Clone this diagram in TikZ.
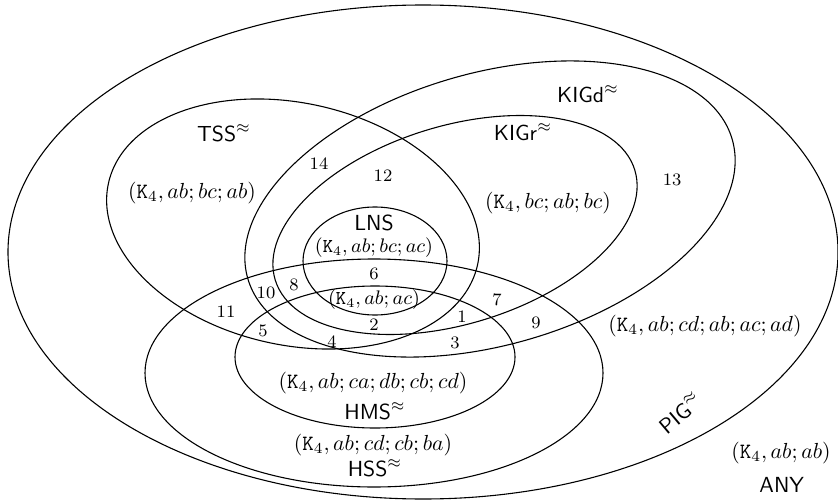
\documentclass[tikz,border=0pt]{standalone}
\usepackage{amsmath}
\usepackage{tikz}

\begin{document}
\begin{tikzpicture}[x=0.4585pt,y=-0.4585pt,
    set/.style={draw,line width=0.5pt},
    setname/.style={inner sep=0pt},
    region/.style={font=\footnotesize,inner sep=1pt},
    graph/.style={inner sep=0pt},
    small graph/.style={font=\small,inner sep=0pt}]

  \useasboundingbox (0,0) rectangle (838,500);

  % the sets
  \draw[set] (423,252) ellipse [x radius=415, y radius=247];
  \draw[set, rotate around={16:(490,209)}] (490,209) ellipse [x radius=252, y radius=136];
  \draw[set, rotate around={17:(455,225)}] (455,225) ellipse [x radius=188, y radius=99];
  \draw[set, rotate around={-12.5:(293,224)}] (293,224) ellipse [x radius=189, y radius=121];
  \draw[set] (375,261) ellipse [x radius=72, y radius=54];
  \draw[set] (374,373) ellipse [x radius=229, y radius=114];
  \draw[set] (375,357) ellipse [x radius=140, y radius=71];

  % names of the sets
  \node[setname] (tss) at (224,133) {$\mathsf{TSS}^{\approx}$};
  \node[setname] (kigd) at (588,94) {$\mathsf{KIGd}^{\approx}$};
  \node[setname] (kigr) at (523,132) {$\mathsf{KIGr}^{\approx}$};
  \node[setname] (lns) at (374,223) {$\mathsf{LNS}$};
  \node[setname] (hms) at (375,411) {$\mathsf{HMS}^{\approx}$};
  \node[setname] (hss) at (375,468) {$\mathsf{HSS}^{\approx}$};
  \node[setname, rotate=40] (pig) at (680,413) {$\mathsf{PIG}^{\approx}$};
  \node[setname] (any) at (782,485) {$\mathsf{ANY}$};

  % witnesses
  \node[graph] (g-tss) at (192,193) {$(\mathtt{K}_4, ab;bc;ab)$};
  \node[graph] (g-kigr) at (548,203) {$(\mathtt{K}_4, bc;ab;bc)$};
  \node[small graph] (g-lns) at (374,248) {$(\mathtt{K}_4, ab;bc;ac)$};
  \node[small graph] (g-core) at (374,300) {$(\mathtt{K}_4, ab;ac)$};
  \node[graph] (g-hms) at (373,383) {$(\mathtt{K}_4, ab;ca;db;cb;cd)$};
  \node[graph] (g-hss) at (373,445) {$(\mathtt{K}_4, ab;cd;cb;ba)$};
  \node[graph] (g-pig) at (705,326) {$(\mathtt{K}_4, ab;cd;ab;ac;ad)$};
  \node[graph] (g-any) at (781,453) {$(\mathtt{K}_4, ab;ab)$};

  % numbered regions
  \node[region] (r1) at (462,317) {1};
  \node[region] (r2) at (374,325) {2};
  \node[region] (r3) at (455,343) {3};
  \node[region] (r4) at (332,342) {4};
  \node[region] (r5) at (263,331) {5};
  \node[region] (r6) at (374,274) {6};
  \node[region] (r7) at (497,300) {7};
  \node[region] (r8) at (294,285) {8};
  \node[region] (r9) at (536,323) {9};
  \node[region] (r10) at (266,293) {10};
  \node[region] (r11) at (226,312) {11};
  \node[region] (r12) at (383,176) {12};
  \node[region] (r13) at (672,180) {13};
  \node[region] (r14) at (319,164) {14};
\end{tikzpicture}
\end{document}
